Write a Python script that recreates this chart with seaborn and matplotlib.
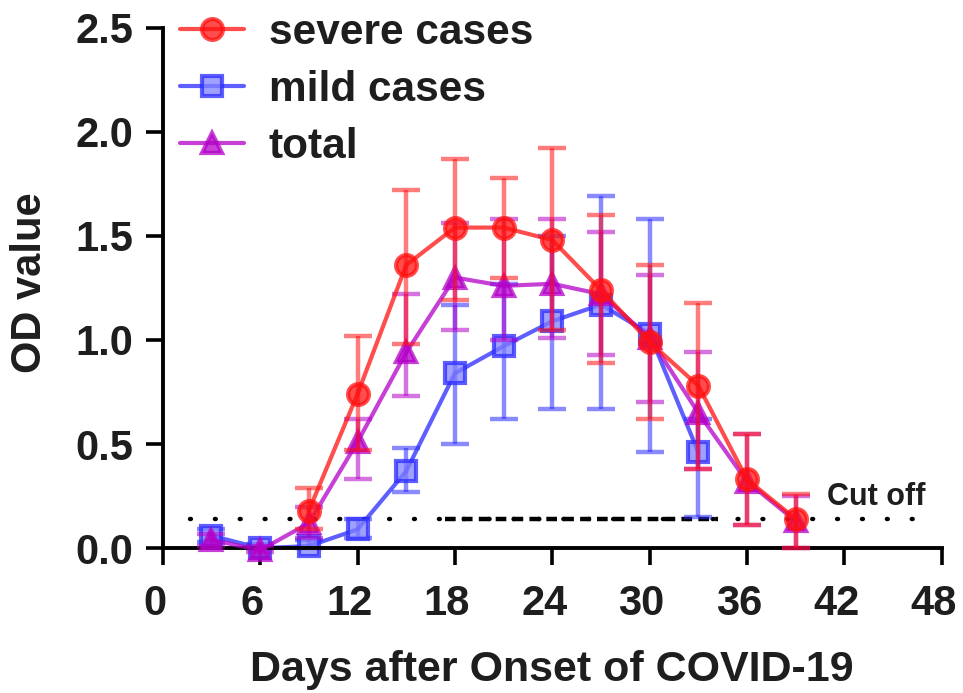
import matplotlib
matplotlib.use("Agg")
import matplotlib.pyplot as plt
import matplotlib.transforms as mtransforms
import numpy as np
import pandas as pd
import seaborn as sns

# Values
days_severe = [9, 12, 15, 18, 21, 24, 27, 30, 33, 36, 39]
od_severe = [0.18, 0.74, 1.36, 1.54, 1.54, 1.48, 1.24, 0.99, 0.78, 0.33, 0.14]
err_hi_severe = [0.29, 1.02, 1.72, 1.87, 1.78, 1.92, 1.60, 1.36, 1.18, 0.55, 0.26]
err_lo_severe = [0.09, 0.47, 0.98, 1.19, 1.30, 1.05, 0.89, 0.62, 0.38, 0.11, 0.00]

days_mild = [3, 6, 9, 12, 15, 18, 21, 24, 27, 30, 33]
od_mild = [0.06, 0.00, 0.01, 0.09, 0.37, 0.84, 0.97, 1.09, 1.17, 1.03, 0.46]
err_hi_mild = [0.09, 0.02, 0.04, 0.14, 0.48, 1.17, 1.27, 1.50, 1.69, 1.58, 0.62]
err_lo_mild = [0.03, 0.00, 0.00, 0.05, 0.27, 0.50, 0.62, 0.67, 0.67, 0.46, 0.15]

days_total = [3, 6, 9, 12, 15, 18, 21, 24, 27, 30, 33, 36, 39]
od_total = [0.04, -0.01, 0.12, 0.51, 0.94, 1.30, 1.26, 1.27, 1.22, 1.01, 0.65, 0.32, 0.13]
err_hi_total = [0.07, 0.01, 0.20, 0.62, 1.22, 1.56, 1.58, 1.58, 1.52, 1.31, 0.94, 0.55, 0.25]
err_lo_total = [0.01, -0.02, 0.05, 0.33, 0.73, 1.05, 1.00, 1.01, 0.93, 0.70, 0.38, 0.11, 0.00]

cutoff = 0.14
x_ticks = [0, 6, 12, 18, 24, 30, 36, 42, 48]
y_ticks = [0.0, 0.5, 1.0, 1.5, 2.0, 2.5]

sns.set_style("ticks")
plt.rcParams["font.family"] = ["Liberation Sans", "DejaVu Sans"]
plt.rcParams["font.weight"] = "bold"
txt = "#1e1e1e"

fig = plt.figure(figsize=(9.63, 6.93), dpi=100)
ax = fig.add_axes([0.169, 0.209, 0.809, 0.751])

# cut-off line: dotted across, dashed in the middle
ax.plot([1.7, 47.6], [cutoff, cutoff], color="black", linestyle=(0, (0.2, 5.4)),
        linewidth=3.2, dash_capstyle="round", zorder=1)
ax.plot([17.4, 34.2], [cutoff, cutoff], color="black", linestyle=(0, (2.4, 1.4)),
        linewidth=3.2, zorder=1)
ax.text(40.9, 0.245, "Cut off", fontsize=22, ha="left", va="center", color=txt)

series = [
    ("mild cases", days_mild, od_mild, err_lo_mild, err_hi_mild, "#2a2aff", "s", 2),
    ("total", days_total, od_total, err_lo_total, err_hi_total, "#b400c8", "^", 3),
    ("severe cases", days_severe, od_severe, err_lo_severe, err_hi_severe, "#ff1010", "o", 4),
]

handles = {}
for name, d, v, lo, hi, col, mk, z in series:
    df = pd.DataFrame({"day": d, "od": v})
    v = np.array(v)
    yerr = [v - np.array(lo), np.array(hi) - v]
    ax.errorbar(d, v, yerr=yerr, fmt="none", ecolor=col, alpha=0.55,
                elinewidth=3.2, capsize=10, capthick=3.2, zorder=z, clip_on=False)
    face = "#8080ff" if mk == "s" else col
    sns.lineplot(data=df, x="day", y="od", ax=ax, color=col, linewidth=3,
                 alpha=0.75, marker=mk, markersize=15, markerfacecolor=face,
                 markeredgecolor=col, markeredgewidth=3, zorder=z + 0.5,
                 clip_on=False)
    handles[name] = ax.lines[-1]

order = ["severe cases", "mild cases", "total"]
leg = ax.legend([handles[n] for n in order], order, loc="upper left",
                bbox_to_anchor=(180 / 963, 1 - 13 / 693), bbox_transform=fig.transFigure,
                frameon=False, fontsize=30.5, handlelength=1.5, handletextpad=0.6,
                labelspacing=0.4, borderpad=0, borderaxespad=0)
for t in leg.get_texts():
    t.set_color(txt)

ax.set_xlim(0, 48)
ax.set_ylim(0, 2.5)
ax.set_xticks(x_ticks)
ax.set_yticks(y_ticks)
ax.set_yticklabels([f"{t:.1f}" for t in y_ticks])
ax.set_xlabel("Days after Onset of COVID-19", fontsize=31, fontweight="bold", color=txt)
ax.set_ylabel("OD value", fontsize=30, fontweight="bold", color=txt)
ax.xaxis.set_label_coords(0.5, -0.196)
ax.yaxis.set_label_coords(-0.145, 0.51)
ax.tick_params(axis="both", labelsize=30, width=2.6, length=12, direction="out",
               colors="black", labelcolor=txt)
ax.tick_params(axis="y", pad=9)
ax.tick_params(axis="x", pad=14)
shift = mtransforms.ScaledTranslation(-8 / 100, 0, fig.dpi_scale_trans)
for lab in ax.get_xticklabels():
    lab.set_transform(lab.get_transform() + shift)
for s in ["left", "bottom"]:
    ax.spines[s].set_linewidth(2.8)
    ax.spines[s].set_color("black")
sns.despine(ax=ax)

fig.savefig("out.png", dpi=100)
